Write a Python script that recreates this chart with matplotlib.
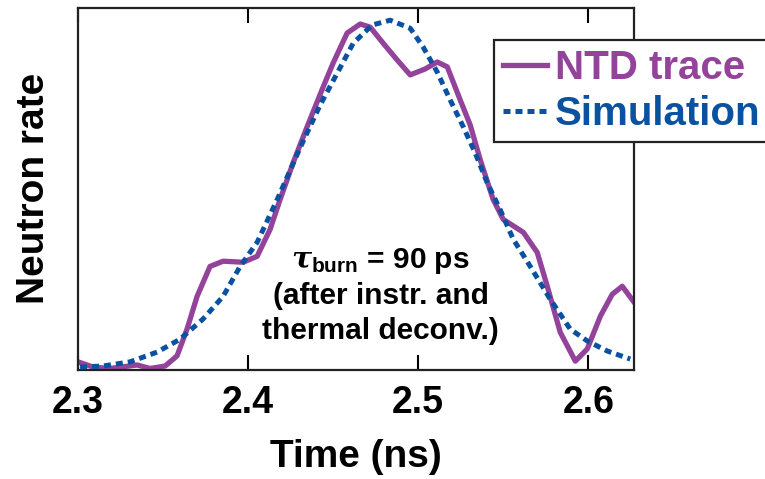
"""Neutron burn history: NTD trace vs simulation"""

import matplotlib.pyplot as plt

plt.rcParams['font.family'] = ['Liberation Sans', 'DejaVu Sans']
plt.rcParams['font.weight'] = 'bold'
plt.rcParams['mathtext.fontset'] = 'custom'
plt.rcParams['mathtext.it'] = 'DejaVu Serif:italic'
plt.rcParams['mathtext.rm'] = 'Liberation Sans:bold'
plt.rcParams['mathtext.bf'] = 'Liberation Sans:bold'

# NTD trace (time in ns, normalised rate)
ntd_t = [2.3000, 2.3088, 2.3188, 2.3347, 2.3424, 2.3512, 2.3582, 2.3641, 2.3700,
         2.3776, 2.3853, 2.3971, 2.4053, 2.4129, 2.4188, 2.4265, 2.4347, 2.4441,
         2.4500, 2.4582, 2.4659, 2.4718, 2.4794, 2.4876, 2.4953, 2.5041, 2.5112,
         2.5171, 2.5247, 2.5306, 2.5365, 2.5441, 2.5500, 2.5618, 2.5700, 2.5759,
         2.5835, 2.5924, 2.5994, 2.6071, 2.6141, 2.6200, 2.6265]
ntd_y = [0.019, 0.004, 0.000, 0.010, 0.000, 0.007, 0.036, 0.113, 0.207,
         0.293, 0.308, 0.305, 0.322, 0.399, 0.485, 0.591, 0.694, 0.808,
         0.877, 0.963, 0.989, 0.980, 0.934, 0.886, 0.843, 0.860, 0.880,
         0.866, 0.771, 0.699, 0.599, 0.485, 0.428, 0.391, 0.333, 0.236,
         0.104, 0.021, 0.056, 0.150, 0.213, 0.236, 0.193]

# simulation
sim_t = [2.3012, 2.3147, 2.3306, 2.3465, 2.3600, 2.3735, 2.3853, 2.3953, 2.4053,
         2.4171, 2.4306, 2.4424, 2.4524, 2.4618, 2.4729, 2.4835, 2.4953, 2.5029,
         2.5112, 2.5188, 2.5265, 2.5335, 2.5406, 2.5482, 2.5559, 2.5659, 2.5776,
         2.5894, 2.5994, 2.6112, 2.6247]
sim_y = [0.004, 0.007, 0.019, 0.047, 0.084, 0.142, 0.207, 0.293, 0.362,
         0.485, 0.634, 0.757, 0.848, 0.934, 0.986, 1.000, 0.977, 0.923,
         0.851, 0.771, 0.694, 0.619, 0.533, 0.456, 0.371, 0.293, 0.199,
         0.113, 0.079, 0.050, 0.027]

xticks = [2.3, 2.4, 2.5, 2.6]
purple = "#93439a"
blue = "#0a52a1"

fig = plt.figure(figsize=(7.65, 4.79), dpi=100)
ax = fig.add_axes([0.102, 0.2286, 0.727, 0.7554])

ax.plot(ntd_t, ntd_y, color=purple, lw=3.8, label="NTD trace",
        solid_joinstyle="round", zorder=2)
ax.plot(sim_t, sim_y, color=blue, lw=3.6, linestyle=(0, (1.4, 1.0)),
        label="Simulation", zorder=3)

ax.set_xlim(2.3, 2.627)
ax.set_ylim(-0.003, 1.036)
ax.set_xticks(xticks)
ax.set_xticklabels([str(v) for v in xticks])
ax.set_yticks([])
ax.tick_params(axis="x", direction="in", length=11, width=1.5, top=True,
               labelsize=27, pad=11)
for s in ax.spines.values():
    s.set_linewidth(1.6)
    s.set_color("#222222")

ax.set_xlabel("Time (ns)", fontsize=28, fontweight="bold", labelpad=13)
ax.set_ylabel("Neutron rate", fontsize=28, fontweight="bold", labelpad=19)

ax.text(2.478, 0.21, r"$\it{\tau}_{\mathbf{burn}}$ = 90 ps" + "\n(after instr. and\nthermal deconv.)",
        ha="center", va="center", fontsize=21.5, fontweight="bold",
        linespacing=1.3)

leg = fig.legend(loc="upper left", bbox_to_anchor=(494 / 765, 1 - 40 / 479),
                 fontsize=29, frameon=True, fancybox=False, handlelength=1.1,
                 handletextpad=0.2, borderpad=0.22, labelspacing=0.2,
                 borderaxespad=0)
leg.get_frame().set_edgecolor("#222222")
leg.get_frame().set_linewidth(1.6)
leg.get_frame().set_alpha(1)
for txt, c in zip(leg.get_texts(), [purple, blue]):
    txt.set_color(c)
    txt.set_fontweight("bold")

plt.savefig("out.png", dpi=100)
plt.close()
